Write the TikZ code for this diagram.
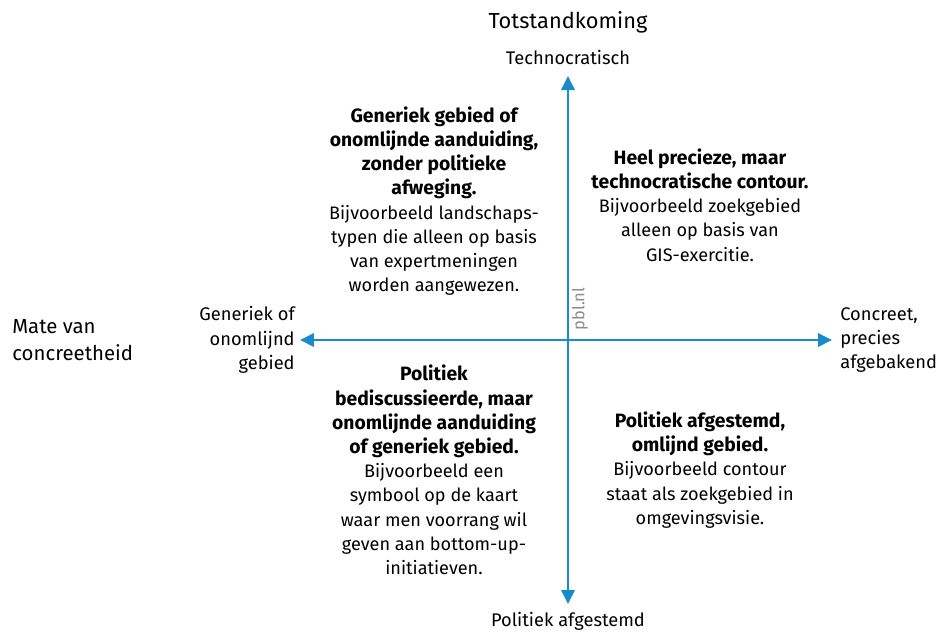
\documentclass[tikz,border=0pt]{standalone}
\usepackage{fontspec}
\setmainfont{Fira Sans}
\usetikzlibrary{arrows.meta}
\definecolor{pblblue}{RGB}{24,139,204}
\definecolor{pblgray}{RGB}{140,140,140}
\newcommand\kop[1]{{\fontsize{11}{13.8}\selectfont\bfseries #1}}

\begin{document}
\begin{tikzpicture}[x=0.02cm, y=-0.02cm,
	axis/.style={pblblue, line width=1.1pt, {Triangle[length=0.28cm, width=0.27cm]}-{Triangle[length=0.28cm, width=0.27cm]}},
	title/.style={font=\fontsize{12.4}{15.4}\selectfont},
	pole/.style={font=\fontsize{10.4}{13.9}\selectfont, inner sep=0pt},
	quad/.style={font=\fontsize{10.3}{13.8}\selectfont, align=center, inner sep=0pt}]
	\useasboundingbox (0, 0) rectangle (941, 633);

	% assen
	\coordinate (west) at (300, 340);
	\coordinate (east) at (832, 340);
	\coordinate (north) at (568, 76);
	\coordinate (south) at (568, 604);
	\draw[axis] (west) -- (east);
	\draw[axis] (south) -- (north);

	% asnamen
	\node[title] (totstand) at (568, 22) {Totstandkoming};
	\node[font=\fontsize{11.6}{15.4}\selectfont, anchor=west, align=left, inner sep=0pt] (mate) at (12, 340) {Mate van\\concreetheid};

	% polen
	\node[pole] (techno) at (568, 57) {Technocratisch};
	\node[pole] (polafg) at (568, 621) {Politiek afgestemd};
	\node[pole, anchor=east, align=right] (generiek) at (295, 340) {Generiek of\\onomlijnd\\gebied};
	\node[pole, anchor=west, align=left] (concreet) at (840, 340) {Concreet,\\precies\\afgebakend};

	\node[pblgray, rotate=90, font=\fontsize{9.4}{11}\selectfont] (pbl) at (580, 309) {pbl.nl};

	% kwadranten
	\node[quad] (lb) at (434, 201) {\kop{Generiek gebied of}\\\kop{onomlijnde aanduiding,}\\\kop{zonder politieke}\\\kop{afweging.}\\Bijvoorbeeld landschaps-\\typen die alleen op basis\\van expertmeningen\\worden aangewezen.};
	\node[quad] (rb) at (700, 205) {\kop{Heel precieze, maar}\\\kop{technocratische contour.}\\Bijvoorbeeld zoekgebied\\alleen op basis van\\GIS-exercitie.};
	\node[quad] (lo) at (434, 470) {\kop{Politiek}\\\kop{bediscussieerde, maar}\\\kop{onomlijnde aanduiding}\\\kop{of generiek gebied.}\\Bijvoorbeeld een\\symbool op de kaart\\waar men voorrang wil\\geven aan bottom-up-\\initiatieven.};
	\node[quad] (ro) at (700, 470) {\kop{Politiek afgestemd,}\\\kop{omlijnd gebied.}\\Bijvoorbeeld contour\\staat als zoekgebied in\\omgevingsvisie.};
\end{tikzpicture}
\end{document}
